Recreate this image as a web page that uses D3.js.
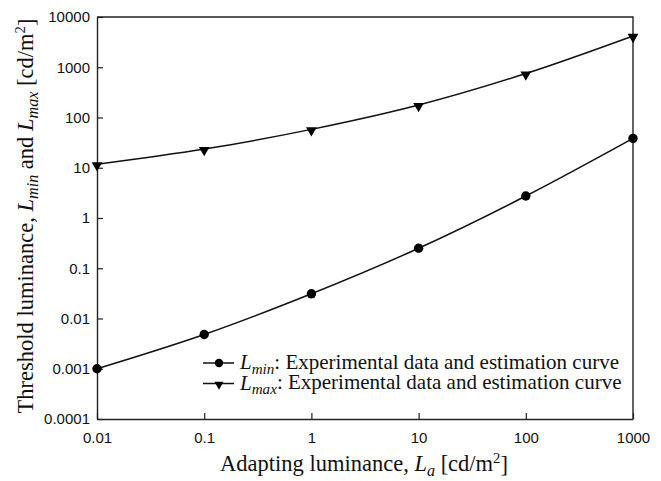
<!DOCTYPE html>
<html>
<head>
<meta charset="utf-8">
<script src="https://cdn.jsdelivr.net/npm/d3@7"></script>
<style>
  body { margin: 0; background: #fff; }
  svg { display: block; }
</style>
</head>
<body>
<svg id="chart" width="661" height="481"></svg>
<script>
// ---- data ----
var adapting = [0.01, 0.1, 1, 10, 100, 1000];
var lMin = [0.001, 0.0048, 0.031, 0.25, 2.74, 38.5];
var lMax = [11.7, 23.5, 58, 177, 750, 4200];

var xTicks = [0.01, 0.1, 1, 10, 100, 1000];
var xTickLabels = ["0.01", "0.1", "1", "10", "100", "1000"];
var yTicks = [0.0001, 0.001, 0.01, 0.1, 1, 10, 100, 1000, 10000];
var yTickLabels = ["0.0001", "0.001", "0.01", "0.1", "1", "10", "100", "1000", "10000"];

var legendLabels = ["min", "max"];

// ---- layout ----
var plotL = 97, plotR = 633, plotT = 17, plotB = 419;
var svg = d3.select("#chart");

var x = d3.scaleLog().domain([0.01, 1000]).range([plotL, plotR]);
var y = d3.scaleLog().domain([0.0001, 10000]).range([plotB, plotT]);

var serif = "Liberation Serif, Times New Roman, serif";
var sans = "Liberation Sans, Arial, sans-serif";

// axes, ticks pointing inward
var xAxis = d3.axisBottom(x)
    .tickValues(xTicks)
    .tickFormat(function(d, i) { return xTickLabels[i]; })
    .tickSizeInner(-6).tickSizeOuter(0).tickPadding(13);
var yAxis = d3.axisLeft(y)
    .tickValues(yTicks)
    .tickFormat(function(d, i) { return yTickLabels[i]; })
    .tickSizeInner(-6).tickSizeOuter(0).tickPadding(7);

var gx = svg.append("g").attr("transform", "translate(0," + plotB + ")").call(xAxis);
var gy = svg.append("g").attr("transform", "translate(" + plotL + ",0)").call(yAxis);

[gx, gy].forEach(function(g) {
    g.selectAll(".domain").attr("stroke", "#222").attr("stroke-width", 1.4);
    g.selectAll(".tick line").attr("stroke", "#222").attr("stroke-width", 1.2);
    g.selectAll(".tick text").attr("font-family", sans).attr("font-size", 15).attr("fill", "#111");
});

// top and right frame
svg.append("path")
    .attr("d", "M" + plotL + "," + plotT + "H" + plotR + "V" + plotB)
    .attr("fill", "none").attr("stroke", "#222").attr("stroke-width", 1.4);

// ---- curves ----
var line = d3.line()
    .x(function(d) { return x(d[0]); })
    .y(function(d) { return y(d[1]); })
    .curve(d3.curveMonotoneX);

var minPts = adapting.map(function(a, i) { return [a, lMin[i]]; });
var maxPts = adapting.map(function(a, i) { return [a, lMax[i]]; });

svg.append("path").attr("d", line(minPts))
    .attr("fill", "none").attr("stroke", "#111").attr("stroke-width", 1.5);
svg.append("path").attr("d", line(maxPts))
    .attr("fill", "none").attr("stroke", "#111").attr("stroke-width", 1.5);

var tri = d3.symbol().type(d3.symbolTriangle).size(50);

svg.selectAll(".pmin").data(minPts).enter().append("circle")
    .attr("class", "pmin")
    .attr("cx", function(d) { return x(d[0]); })
    .attr("cy", function(d) { return y(d[1]); })
    .attr("r", 4.7).attr("fill", "#000");

svg.selectAll(".pmax").data(maxPts).enter().append("path")
    .attr("class", "pmax")
    .attr("d", tri)
    .attr("transform", function(d) { return "translate(" + x(d[0]) + "," + (y(d[1]) + 1) + ") rotate(180)"; })
    .attr("fill", "#000");

// ---- legend ----
function writeL(t, sub, rest) {
    t.append("tspan").attr("font-style", "italic").text("L");
    t.append("tspan").attr("font-style", "italic").attr("font-size", "0.72em").attr("dy", "0.3em").text(sub);
    t.append("tspan").attr("dy", "-0.22em").text(rest);
}

var legend = svg.append("g").attr("font-family", serif).attr("font-size", 21).attr("fill", "#111");
legendLabels.forEach(function(sub, i) {
    var ly = 363 + i * 20.5;
    legend.append("line").attr("x1", 203).attr("x2", 234).attr("y1", ly).attr("y2", ly)
        .attr("stroke", "#111").attr("stroke-width", 1.5);
    if (i === 0) {
        legend.append("circle").attr("cx", 219).attr("cy", ly).attr("r", 4.2).attr("fill", "#000");
    } else {
        legend.append("path").attr("d", d3.symbol().type(d3.symbolTriangle).size(36))
            .attr("transform", "translate(219," + (ly + 1) + ") rotate(180)").attr("fill", "#000");
    }
    var t = legend.append("text").attr("x", 240).attr("y", ly + 6);
    writeL(t, sub, ": Experimental data and estimation curve");
});

// ---- axis titles ----
var xt = svg.append("text")
    .attr("x", 364).attr("y", 471)
    .attr("text-anchor", "middle")
    .attr("font-family", serif).attr("font-size", 22.5).attr("fill", "#111");
xt.append("tspan").text("Adapting luminance, ");
xt.append("tspan").attr("font-style", "italic").text("L");
xt.append("tspan").attr("font-style", "italic").attr("font-size", "0.72em").attr("dy", "0.3em").text("a");
xt.append("tspan").attr("dy", "-0.22em").text(" [cd/m");
xt.append("tspan").attr("font-size", "0.65em").attr("dy", "-0.55em").text("2");
xt.append("tspan").attr("dy", "0.4em").text("]");

var yt = svg.append("text")
    .attr("transform", "translate(33,216) rotate(-90)")
    .attr("text-anchor", "middle")
    .attr("font-family", serif).attr("font-size", 22.5).attr("fill", "#111");
yt.append("tspan").text("Threshold luminance, ");
yt.append("tspan").attr("font-style", "italic").text("L");
yt.append("tspan").attr("font-style", "italic").attr("font-size", "0.72em").attr("dy", "0.3em").text("min");
yt.append("tspan").attr("dy", "-0.22em").text(" and ");
yt.append("tspan").attr("font-style", "italic").text("L");
yt.append("tspan").attr("font-style", "italic").attr("font-size", "0.72em").attr("dy", "0.3em").text("max");
yt.append("tspan").attr("dy", "-0.22em").text(" [cd/m");
yt.append("tspan").attr("font-size", "0.65em").attr("dy", "-0.55em").text("2");
yt.append("tspan").attr("dy", "0.4em").text("]");
</script>
</body>
</html>
